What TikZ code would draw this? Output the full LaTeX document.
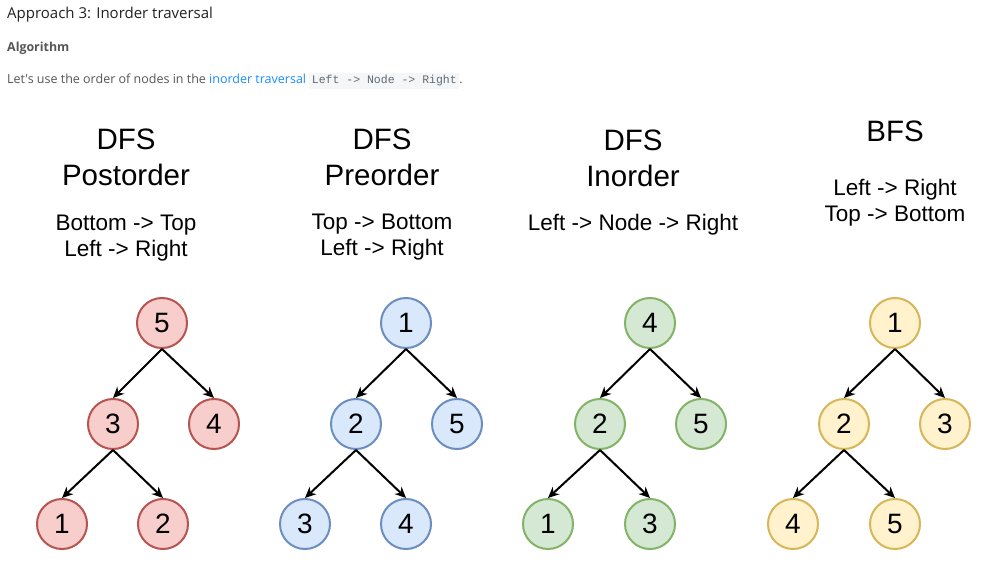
\documentclass[tikz,border=0pt]{standalone}
\usepackage{fontspec}
\setmainfont{Liberation Sans}
\newfontfamily\uifont{Open Sans}
\newfontfamily\codefont{Liberation Mono}
\usetikzlibrary{arrows.meta}
\usetikzlibrary{positioning}

\definecolor{hdrtext}{HTML}{222222}
\definecolor{graytext}{HTML}{555555}
\definecolor{linkblue}{HTML}{1A8CFF}
\definecolor{codebg}{HTML}{F4F6F8}
\definecolor{codetext}{HTML}{5F6B75}
\definecolor{redfill}{HTML}{F8CECC}
\definecolor{redline}{HTML}{B85450}
\definecolor{bluefill}{HTML}{DAE8FC}
\definecolor{blueline}{HTML}{6C8EBF}
\definecolor{greenfill}{HTML}{D5E8D4}
\definecolor{greenline}{HTML}{82B366}
\definecolor{yellowfill}{HTML}{FFF2CC}
\definecolor{yellowline}{HTML}{D6B656}

\begin{document}
\begin{tikzpicture}[
    x=1pt, y=-1pt,
    tnode/.style={circle, line width=2pt, minimum size=50pt, inner sep=0pt,
        font=\fontsize{28}{28}\selectfont},
    rednode/.style={tnode, draw=redline, fill=redfill},
    bluenode/.style={tnode, draw=blueline, fill=bluefill},
    greennode/.style={tnode, draw=greenline, fill=greenfill},
    yellownode/.style={tnode, draw=yellowline, fill=yellowfill},
    title/.style={align=center, font=\fontsize{29.5}{36}\selectfont},
    subtitle/.style={align=center, font=\fontsize{22.5}{26}\selectfont},
    edge/.style={line width=2pt, -{Stealth[length=11pt, width=10pt, inset=3.5pt]}}]

    \useasboundingbox[fill=white] (0,0) rectangle (985,585);

    % page header
    \node[anchor=base west, inner sep=0pt, text=hdrtext,
        font=\uifont\fontsize{15}{17}\selectfont] (approach) at (7,19)
        {Approach 3: Inorder traversal};
    \node[anchor=base west, inner sep=0pt, text=graytext,
        font=\uifont\bfseries\fontsize{12.4}{14}\selectfont] (algorithm) at (7,52)
        {Algorithm};
    \node[anchor=base west, inner sep=0pt, text=graytext,
        font=\uifont\fontsize{12.5}{15}\selectfont] (intro) at (7,84)
        {Let's use the order of nodes in the \textcolor{linkblue}{inorder traversal}
        {\setlength{\fboxsep}{2.5pt}\colorbox{codebg}{\codefont\fontsize{11.5}{13}\selectfont\textcolor{codetext}{Left -> Node -> Right}}}.};

    % DFS postorder
    \node[title] (posttitle) at (126,157) {DFS\\Postorder};
    \node[subtitle] (postrule) at (126,238) {Bottom -> Top\\Left -> Right};
    \node[rednode] (post5) at (162,323) {5};
    \node[rednode] (post3) at (113,424) {3};
    \node[rednode] (post4) at (214,424) {4};
    \node[rednode] (post1) at (62,524) {1};
    \node[rednode] (post2) at (163,524) {2};
    \draw[edge] (post5.south) -- (post3.north);
    \draw[edge] (post5.south) -- (post4.north);
    \draw[edge] (post3.south) -- (post1.north);
    \draw[edge] (post3.south) -- (post2.north);

    % DFS preorder
    \node[title] (pretitle) at (382,157) {DFS\\Preorder};
    \node[subtitle] (prerule) at (382,237) {Top -> Bottom\\Left -> Right};
    \node[bluenode] (pre1) at (406,323) {1};
    \node[bluenode] (pre2) at (356,424) {2};
    \node[bluenode] (pre5) at (457,424) {5};
    \node[bluenode] (pre3) at (305,524) {3};
    \node[bluenode] (pre4) at (406,524) {4};
    \draw[edge] (pre1.south) -- (pre2.north);
    \draw[edge] (pre1.south) -- (pre5.north);
    \draw[edge] (pre2.south) -- (pre3.north);
    \draw[edge] (pre2.south) -- (pre4.north);

    % DFS inorder
    \node[title] (intitle) at (633,158) {DFS\\Inorder};
    \node[subtitle] (inrule) at (633,225) {Left -> Node -> Right};
    \node[greennode] (in4) at (650,323) {4};
    \node[greennode] (in2) at (600,424) {2};
    \node[greennode] (in5) at (701,424) {5};
    \node[greennode] (in1) at (548,524) {1};
    \node[greennode] (in3) at (650,524) {3};
    \draw[edge] (in4.south) -- (in2.north);
    \draw[edge] (in4.south) -- (in5.north);
    \draw[edge] (in2.south) -- (in1.north);
    \draw[edge] (in2.south) -- (in3.north);

    % BFS
    \node[title] (bfstitle) at (895,131) {BFS};
    \node[subtitle] (bfsrule) at (895,203) {Left -> Right\\Top -> Bottom};
    \node[yellownode] (bfs1) at (895,323) {1};
    \node[yellownode] (bfs2) at (844,424) {2};
    \node[yellownode] (bfs3) at (945,424) {3};
    \node[yellownode] (bfs4) at (793,524) {4};
    \node[yellownode] (bfs5) at (895,524) {5};
    \draw[edge] (bfs1.south) -- (bfs2.north);
    \draw[edge] (bfs1.south) -- (bfs3.north);
    \draw[edge] (bfs2.south) -- (bfs4.north);
    \draw[edge] (bfs2.south) -- (bfs5.north);

\end{tikzpicture}
\end{document}
